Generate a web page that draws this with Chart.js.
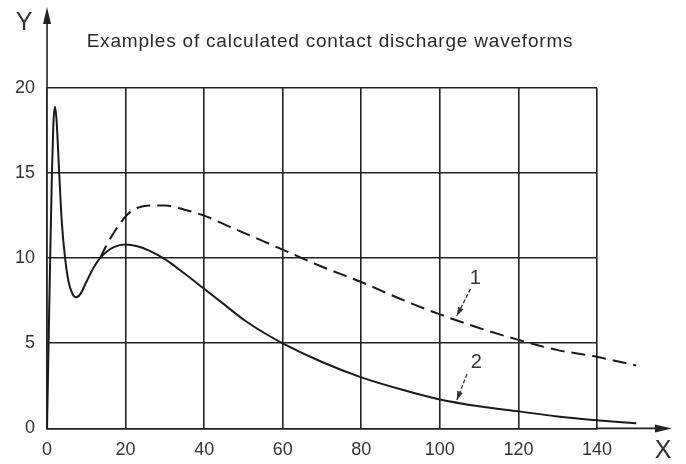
<!DOCTYPE html>
<html>
<head>
<meta charset="utf-8">
<script src="https://cdn.jsdelivr.net/npm/chart.js@4.4.1/dist/chart.umd.min.js"></script>
<style>
  html, body { margin: 0; padding: 0; background: #fff; }
  #wrap { width: 686px; height: 464px; }
</style>
</head>
<body>
<div id="wrap"><canvas id="chart" width="686" height="464"></canvas></div>
<script>
// shared start of both waveforms (the initial spike)
const commonX = [0, 0.4, 0.8, 1.25, 1.6, 2.0, 2.4, 3.1, 3.8, 4.6, 5.5, 6.5, 7.5, 8.5, 10, 12, 13.5];
const commonY = [0, 5, 10, 15, 17.8, 18.9, 18.2, 15, 12, 10, 8.6, 7.9, 7.7, 7.9, 8.6, 9.5, 10.0];

// curve 1 (dashed) after the two waveforms split
const curve1X = [13.5, 15, 17, 20, 22, 26, 30, 35, 40, 45, 50, 55, 60, 70, 80, 90, 100, 110, 120, 130, 139, 150];
const curve1Y = [10.0, 10.7, 11.5, 12.45, 12.85, 13.1, 13.1, 12.85, 12.5, 12.0, 11.5, 11.0, 10.5, 9.5, 8.6, 7.6, 6.7, 5.9, 5.2, 4.6, 4.25, 3.7];

// curve 2 (solid) after the split
const curve2X = [15, 17, 20, 23, 26, 30, 35, 40, 45, 50, 55, 60, 70, 80, 90, 100, 110, 120, 130, 139, 150];
const curve2Y = [10.35, 10.65, 10.8, 10.7, 10.45, 9.95, 9.1, 8.2, 7.3, 6.4, 5.65, 5.0, 3.9, 3.0, 2.3, 1.7, 1.3, 1.0, 0.7, 0.5, 0.3];

const xTicks = [0, 20, 40, 60, 80, 100, 120, 140];
const yTicks = [0, 5, 10, 15, 20];
const titleText = 'Examples of calculated contact discharge waveforms';

// curve labels: [text, label x, label y, arrow from x, from y, arrow tip x, tip y] in data units
const curveLabels = [
  ['1', 109, 8.8, 107.8, 8.2, 104.3, 6.6],
  ['2', 109.3, 3.9, 106.9, 3.2, 104.3, 1.65]
];

const ink = '#222';
const fontFam = '"Liberation Sans", Arial, sans-serif';

function toPoints(xs, ys) {
  return xs.map((x, i) => ({ x: x, y: ys[i] }));
}

const decor = {
  id: 'decor',
  afterDraw(chart) {
    const ctx = chart.ctx;
    const a = chart.chartArea;
    const sx = chart.scales.x;
    const sy = chart.scales.y;
    const x0 = sx.getPixelForValue(0);
    const y0 = sy.getPixelForValue(0);
    ctx.save();
    ctx.strokeStyle = ink;
    ctx.fillStyle = ink;
    ctx.lineWidth = 1.6;

    // axis extensions with arrow heads
    ctx.beginPath();
    ctx.moveTo(x0, a.top);
    ctx.lineTo(x0, a.top - 70);
    ctx.moveTo(a.right, y0);
    ctx.lineTo(a.right + 64, y0);
    ctx.stroke();
    ctx.beginPath();
    ctx.moveTo(x0, a.top - 81);
    ctx.lineTo(x0 - 4, a.top - 64);
    ctx.lineTo(x0 + 4, a.top - 64);
    ctx.closePath();
    ctx.fill();
    ctx.beginPath();
    ctx.moveTo(a.right + 75, y0);
    ctx.lineTo(a.right + 58, y0 - 4);
    ctx.lineTo(a.right + 58, y0 + 4);
    ctx.closePath();
    ctx.fill();

    // axis letters
    ctx.fillStyle = '#333';
    ctx.font = '25px ' + fontFam;
    ctx.textAlign = 'center';
    ctx.textBaseline = 'alphabetic';
    ctx.fillText('Y', x0 - 23, a.top - 58);
    ctx.fillText('X', a.right + 66, y0 + 30);

    // title
    ctx.font = '19px ' + fontFam;
    ctx.letterSpacing = '0.8px';
    ctx.fillStyle = '#2a2a2a';
    ctx.fillText(titleText, 330, a.top - 41);
    ctx.letterSpacing = '0px';

    // curve numbers with small arrows
    ctx.font = '20px ' + fontFam;
    curveLabels.forEach(l => {
      const lx = sx.getPixelForValue(l[1]);
      const ly = sy.getPixelForValue(l[2]);
      const fx = sx.getPixelForValue(l[3]);
      const fy = sy.getPixelForValue(l[4]);
      const tx = sx.getPixelForValue(l[5]);
      const ty = sy.getPixelForValue(l[6]);
      ctx.fillStyle = '#333';
      ctx.textBaseline = 'middle';
      ctx.fillText(l[0], lx, ly);
      ctx.strokeStyle = '#333';
      ctx.lineWidth = 1.3;
      ctx.setLineDash([4, 2]);
      ctx.beginPath();
      ctx.moveTo(fx, fy);
      ctx.lineTo(tx, ty);
      ctx.stroke();
      ctx.setLineDash([]);
      const ang = Math.atan2(ty - fy, tx - fx);
      ctx.beginPath();
      ctx.moveTo(tx, ty);
      ctx.lineTo(tx - 9 * Math.cos(ang) + 3 * Math.sin(ang), ty - 9 * Math.sin(ang) - 3 * Math.cos(ang));
      ctx.lineTo(tx - 9 * Math.cos(ang) - 3 * Math.sin(ang), ty - 9 * Math.sin(ang) + 3 * Math.cos(ang));
      ctx.closePath();
      ctx.fill();
    });
    ctx.restore();
  }
};

new Chart(document.getElementById('chart'), {
  type: 'line',
  data: {
    datasets: [
      {
        label: '1',
        data: toPoints(curve1X, curve1Y),
        borderColor: '#1a1a1a',
        borderWidth: 2,
        borderDash: [14, 7],
        pointRadius: 0,
        cubicInterpolationMode: 'monotone',
        clip: false
      },
      {
        label: '2',
        data: toPoints(commonX.concat(curve2X), commonY.concat(curve2Y)),
        borderColor: '#1a1a1a',
        borderWidth: 2,
        pointRadius: 0,
        cubicInterpolationMode: 'monotone',
        clip: false
      }
    ]
  },
  options: {
    responsive: false,
    animation: false,
    layout: { padding: { left: 3, right: 89, top: 88, bottom: -8 } },
    plugins: {
      legend: { display: false },
      tooltip: { enabled: false }
    },
    scales: {
      x: {
        type: 'linear',
        min: 0,
        max: 140,
        afterBuildTicks: axis => { axis.ticks = xTicks.map(v => ({ value: v })); },
        ticks: { color: '#333', padding: 11, font: { family: fontFam, size: 18 }, maxRotation: 0 },
        grid: { color: ink, lineWidth: 1.6, drawTicks: false },
        border: { color: ink, width: 1.6 }
      },
      y: {
        min: 0,
        max: 20,
        afterBuildTicks: axis => { axis.ticks = yTicks.map(v => ({ value: v })); },
        ticks: { color: '#333', padding: 12, font: { family: fontFam, size: 18 } },
        grid: { color: ink, lineWidth: 1.6, drawTicks: false },
        border: { color: ink, width: 1.6 }
      }
    }
  },
  plugins: [decor]
});
</script>
</body>
</html>
